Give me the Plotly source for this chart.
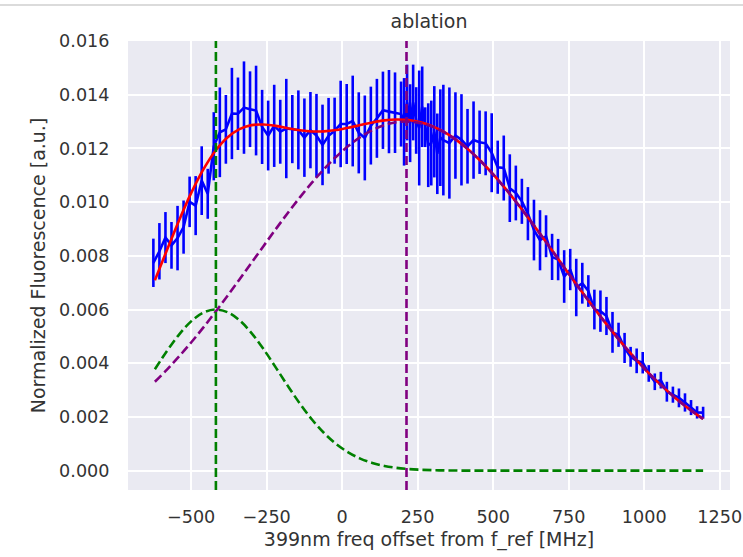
import plotly.graph_objects as go

# ---------------- data ----------------
freq = [-625, -605, -585, -565, -545, -525, -505, -485, -465, -445,
        -425, -405, -385, -365, -345, -325, -305, -285, -265, -245,
        -225, -205, -185, -165, -145, -125, -105, -85, -65, -45,
        -25, -5, 15, 35, 55, 75, 95, 115, 135, 155,
        175, 195, 205, 215, 225, 235, 245, 255, 265, 275,
        285, 295, 305, 315, 325, 335, 355, 375, 395, 415,
        435, 455, 475, 495, 515, 535, 555, 575, 595, 615,
        635, 655, 675, 695, 715, 735, 755, 775, 795, 815,
        835, 855, 875, 895, 915, 935, 955, 975, 995, 1015,
        1035, 1055, 1075, 1095, 1115, 1135, 1155, 1175, 1195]
fluor = [0.00774, 0.00817, 0.00868, 0.00839, 0.00866, 0.00907, 0.01001, 0.00987, 0.01080, 0.01031,
         0.01208, 0.01260, 0.01271, 0.01330, 0.01329, 0.01352, 0.01346, 0.01341, 0.01280, 0.01248,
         0.01284, 0.01262, 0.01274, 0.01272, 0.01269, 0.01240, 0.01268, 0.01248, 0.01213, 0.01247,
         0.01266, 0.01291, 0.01291, 0.01302, 0.01258, 0.01239, 0.01285, 0.01312, 0.01342, 0.01337,
         0.01333, 0.01328, 0.01299, 0.01371, 0.01294, 0.01371, 0.01304, 0.01276, 0.01355, 0.01279,
         0.01212, 0.01220, 0.01262, 0.01180, 0.01240, 0.01231, 0.01220, 0.01248, 0.01232, 0.01208,
         0.01231, 0.01223, 0.01219, 0.01184, 0.01130, 0.01127, 0.01052, 0.01034, 0.01003, 0.00957,
         0.00896, 0.00858, 0.00873, 0.00796, 0.00786, 0.00723, 0.00749, 0.00682, 0.00698, 0.00669,
         0.00600, 0.00594, 0.00576, 0.00515, 0.00506, 0.00457, 0.00424, 0.00409, 0.00402, 0.00362,
         0.00331, 0.00337, 0.00294, 0.00283, 0.00271, 0.00254, 0.00235, 0.00217, 0.00216]
fluor_err = [0.00090, 0.00105, 0.00095, 0.00087, 0.00120, 0.00099, 0.00094, 0.00110, 0.00128, 0.00093,
             0.00127, 0.00167, 0.00128, 0.00170, 0.00135, 0.00172, 0.00141, 0.00167, 0.00138, 0.00130,
             0.00153, 0.00119, 0.00185, 0.00127, 0.00147, 0.00146, 0.00142, 0.00155, 0.00150, 0.00141,
             0.00123, 0.00161, 0.00149, 0.00169, 0.00151, 0.00158, 0.00145, 0.00147, 0.00144, 0.00155,
             0.00150, 0.00121, 0.00163, 0.00141, 0.00145, 0.00141, 0.00124, 0.00214, 0.00150, 0.00074,
             0.00156, 0.00158, 0.00170, 0.00150, 0.00180, 0.00206, 0.00207, 0.00161, 0.00170, 0.00139,
             0.00144, 0.00118, 0.00119, 0.00147, 0.00099, 0.00121, 0.00126, 0.00102, 0.00084, 0.00099,
             0.00113, 0.00112, 0.00078, 0.00086, 0.00077, 0.00098, 0.00077, 0.00107, 0.00076, 0.00059,
             0.00074, 0.00077, 0.00071, 0.00076, 0.00045, 0.00056, 0.00037, 0.00046, 0.00040, 0.00031,
             0.00031, 0.00031, 0.00037, 0.00030, 0.00035, 0.00034, 0.00028, 0.00023, 0.00022]

fit_freq = [-620, -580, -540, -500, -460, -420, -380, -340, -300, -260,
            -220, -180, -140, -100, -60, -20, 20, 60, 100, 140,
            180, 220, 260, 300, 340, 380, 420, 460, 500, 540,
            580, 620, 660, 700, 740, 780, 820, 860, 900, 940,
            980, 1020, 1060, 1100, 1140, 1180, 1195]
fit_total = [0.007088, 0.008220, 0.009320, 0.010333, 0.011207, 0.011905, 0.012407, 0.012719, 0.012868, 0.012890,
             0.012838, 0.012752, 0.012674, 0.012631, 0.012635, 0.012684, 0.012768, 0.012870, 0.012968, 0.013044,
             0.013078, 0.013057, 0.012974, 0.012819, 0.012595, 0.012299, 0.011937, 0.011513, 0.011035, 0.010510,
             0.009948, 0.009356, 0.008744, 0.008120, 0.007493, 0.006871, 0.006261, 0.005670, 0.005101, 0.004561,
             0.004052, 0.003578, 0.003139, 0.002737, 0.002371, 0.002041, 0.001926]
fit_peak1 = [0.003778, 0.004456, 0.005068, 0.005560, 0.005881, 0.006000, 0.005903, 0.005600, 0.005124, 0.004521,
             0.003847, 0.003157, 0.002498, 0.001906, 0.001403, 0.000996, 0.000682, 0.000450, 0.000286, 0.000176,
             0.000104, 0.000059, 0.000033, 0.000017, 0.000009, 0.000004, 0.000002, 0.000001, 0.0, 0.0,
             0.0, 0.0, 0.0, 0.0, 0.0, 0.0, 0.0, 0.0, 0.0, 0.0,
             0.0, 0.0, 0.0, 0.0, 0.0, 0.0, 0.0]
fit_peak2 = [0.003310, 0.003764, 0.004252, 0.004773, 0.005326, 0.005905, 0.006504, 0.007119, 0.007744, 0.008369,
             0.008991, 0.009595, 0.010176, 0.010725, 0.011232, 0.011688, 0.012086, 0.012420, 0.012682, 0.012868,
             0.012974, 0.012998, 0.012941, 0.012802, 0.012586, 0.012295, 0.011935, 0.011512, 0.011035, 0.010510,
             0.009948, 0.009356, 0.008744, 0.008120, 0.007493, 0.006871, 0.006261, 0.005670, 0.005101, 0.004561,
             0.004052, 0.003578, 0.003139, 0.002737, 0.002371, 0.002041, 0.001926]

peak1_center = -418
peak2_center = 213

x_ticks = [-500, -250, 0, 250, 500, 750, 1000, 1250]
x_ticktext = ["\u2212500", "\u2212250", "0", "250", "500", "750", "1000", "1250"]
y_ticks = [0.000, 0.002, 0.004, 0.006, 0.008, 0.010, 0.012, 0.014, 0.016]

# ---------------- figure ----------------
FONT = "DejaVu Sans"
TXT = "#333333"
DASH = "9px,4px"
LW = 2.6
TICK_SIZE = 17.6
LABEL_SIZE = 19

fig = go.Figure()
fig.add_trace(go.Scatter(
    x=freq, y=fluor, mode="lines",
    line=dict(color="blue", width=LW),
    error_y=dict(type="data", array=fluor_err, color="blue", thickness=2.6, width=0),
    showlegend=False))
fig.add_trace(go.Scatter(x=fit_freq, y=fit_total, mode="lines", line_shape="spline",
                         line=dict(color="red", width=LW), showlegend=False))
fig.add_trace(go.Scatter(x=fit_freq, y=fit_peak1, mode="lines", line_shape="spline",
                         line=dict(color="green", width=LW, dash=DASH), showlegend=False))
fig.add_trace(go.Scatter(x=fit_freq, y=fit_peak2, mode="lines", line_shape="spline",
                         line=dict(color="purple", width=LW, dash=DASH), showlegend=False))

for c, col in [(peak1_center, "green"), (peak2_center, "purple")]:
    fig.add_shape(type="line", xref="x", yref="paper", x0=c, x1=c, y0=0, y1=1,
                  line=dict(color=col, width=LW, dash=DASH))

# notebook-style separator line at the very top
fig.add_shape(type="line", xref="paper", yref="paper",
              x0=-128 / 602, x1=615 / 602, y0=1 + 36 / 449, y1=1 + 36 / 449,
              line=dict(color="#cfcfcf", width=1.5))

fig.update_layout(
    width=743, height=557,
    margin=dict(l=128, r=13, t=41, b=67, autoexpand=False),
    paper_bgcolor="white", plot_bgcolor="#EAEAF2",
    font=dict(family=FONT, size=TICK_SIZE, color=TXT),
    title=dict(text="ablation", x=(128 + 301) / 743, xanchor="center",
               y=1 - 21 / 557, yanchor="middle", font=dict(family=FONT, size=LABEL_SIZE, color=TXT)),
    showlegend=False,
)
fig.update_xaxes(
    range=[-709, 1284], tickvals=x_ticks, ticktext=x_ticktext, automargin=False,
    showgrid=True, gridcolor="white", gridwidth=1.5, zeroline=False, showline=False,
    ticks="outside", ticklen=11, tickcolor="rgba(0,0,0,0)",
    title=dict(text="399nm freq offset from f_ref [MHz]", standoff=6,
               font=dict(family=FONT, size=LABEL_SIZE, color=TXT)),
)
fig.update_yaxes(
    range=[-0.00072, 0.016], tickvals=y_ticks, tickformat=".3f", automargin=False,
    showgrid=True, gridcolor="white", gridwidth=1.5, zeroline=False, showline=False,
    ticks="outside", ticklen=14, tickcolor="rgba(0,0,0,0)",
    title=dict(text="Normalized Fluorescence [a.u.]", standoff=8,
               font=dict(family=FONT, size=LABEL_SIZE, color=TXT)),
)

fig.write_html("out.html")
